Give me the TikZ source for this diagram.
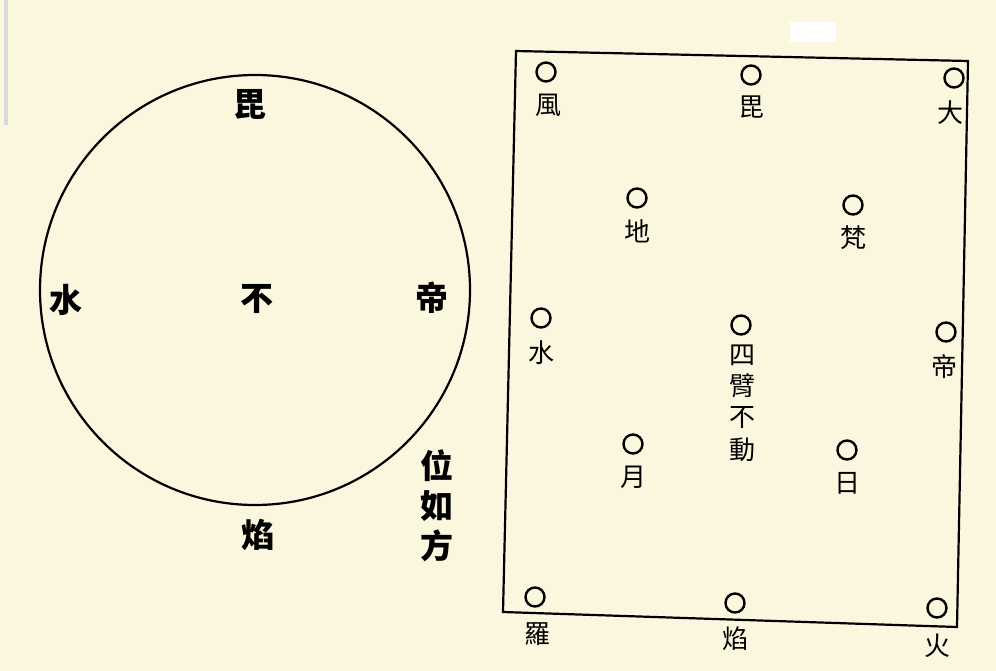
\documentclass[tikz,border=0pt]{standalone}
\usepackage{fontspec}
\newfontfamily\cjk{Noto Sans CJK TC}
\begin{document}
\begin{tikzpicture}[x=1pt,y=-1pt,
  bigch/.style={font=\cjk\bfseries\fontsize{33}{33}\selectfont, inner sep=0pt},
  smch/.style={font=\cjk\fontsize{26}{26}\selectfont, inner sep=0pt},
  dot/.style={circle, draw=black, line width=2.4pt, minimum size=19pt, inner sep=0pt},
  frame/.style={draw=black, line width=2.2pt}]
\fill[fill={rgb,255:red,251;green,247;blue,222}] (0,0) rectangle (996,671);
\useasboundingbox (0,0) rectangle (996,671);
\fill[white] (790,22) rectangle (836,42);
\fill[gray!30] (4,0) rectangle (8,125);
% circle
\node[circle, draw=black, line width=2.2pt, minimum size=430pt, inner sep=0pt] (disc) at (255,290) {};
\node[bigch] (b1) at (250,104) {毘};
\node[bigch] (b2) at (66,300) {水};
\node[bigch] (b3) at (257,299) {不};
\node[bigch] (b4) at (432,298) {帝};
\node[bigch] (b5) at (258,535) {焰};
\node[bigch] (w1) at (437,466) {位};
\node[bigch] (w2) at (437,506) {如};
\node[bigch] (w3) at (437,546) {方};
% rectangle
\coordinate (tl) at (516,51);
\coordinate (tr) at (968,61);
\coordinate (br) at (957,627);
\coordinate (bl) at (503,612);
\draw[frame] (tl) -- (tr) -- (br) -- (bl) -- cycle;
% dots and labels
\node[dot] (d1) at (546,72) {};  \node[smch] (l1) at (548,105) {風};
\node[dot] (d2) at (751,75) {};  \node[smch] (l2) at (751,107) {毘};
\node[dot] (d3) at (954,78) {};  \node[smch] (l3) at (950,113) {大};
\node[dot] (d4) at (637,198) {}; \node[smch] (l4) at (637,231) {地};
\node[dot] (d5) at (853,205) {}; \node[smch] (l5) at (853,238) {梵};
\node[dot] (d6) at (541,318) {}; \node[smch] (l6) at (541,353) {水};
\node[dot] (d7) at (741,325) {};
\node[smch] (l7a) at (742,355) {四};
\node[smch] (l7b) at (742,386) {臂};
\node[smch] (l7c) at (742,418) {不};
\node[smch] (l7d) at (742,450) {動};
\node[dot] (d8) at (946,332) {}; \node[smch] (l8) at (944,367) {帝};
\node[dot] (d9) at (633,444) {}; \node[smch] (l9) at (633,477) {月};
\node[dot] (d10) at (847,450) {}; \node[smch] (l10) at (847,483) {日};
\node[dot] (d11) at (535,597) {}; \node[smch] (l11) at (537,634) {羅};
\node[dot] (d12) at (735,603) {}; \node[smch] (l12) at (735,639) {焰};
\node[dot] (d13) at (937,608) {}; \node[smch] (l13) at (937,646) {火};
\end{tikzpicture}
\end{document}
